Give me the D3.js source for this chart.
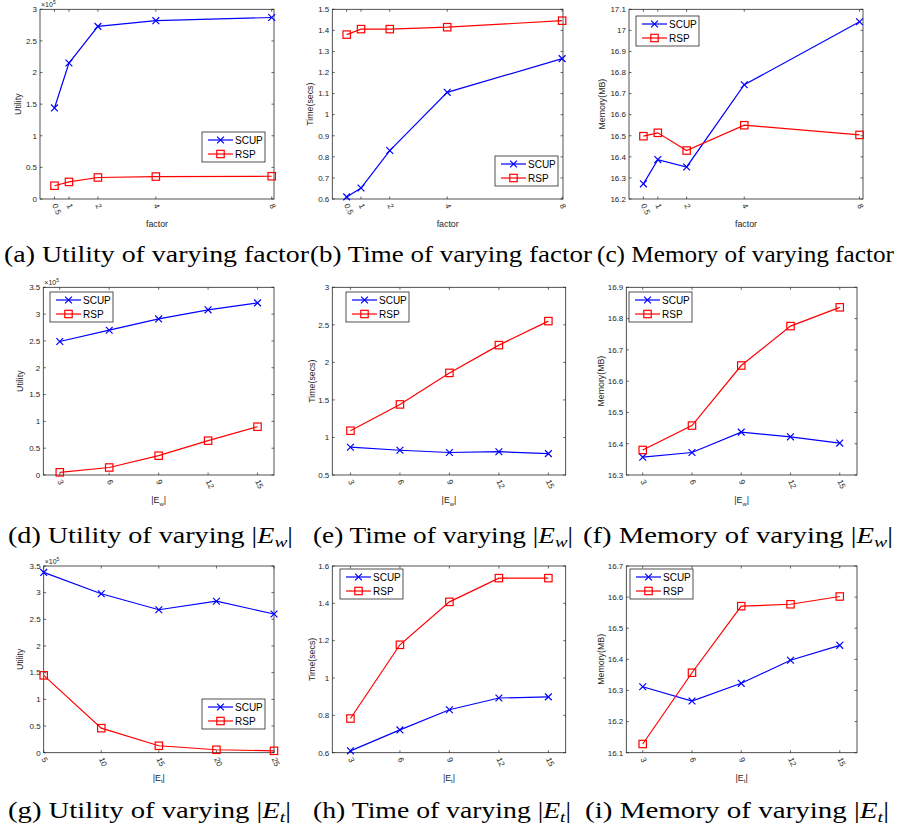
<!DOCTYPE html>
<html>
<head>
<meta charset="utf-8">
<script src="https://cdnjs.cloudflare.com/ajax/libs/d3/7.8.5/d3.min.js"></script>
<style>
  body { margin: 0; background: #fff; }
  svg { display: block; }
</style>
</head>
<body>
<div id="chart"></div>
<script>
// x values
var factorX = [0.5, 1, 2, 4, 8];
var ewX = [3, 6, 9, 12, 15];
var etUtilX = [5, 10, 15, 20, 25];
var etX = [3, 6, 9, 12, 15];

// (a)-(c) varying factor
var utilFactorSCUP = [1.44, 2.15, 2.73, 2.82, 2.87];
var utilFactorRSP = [0.21, 0.27, 0.34, 0.355, 0.36];
var timeFactorSCUP = [0.61, 0.652, 0.83, 1.106, 1.266];
var timeFactorRSP = [1.38, 1.406, 1.406, 1.415, 1.446];
var memFactorSCUP = [16.272, 16.387, 16.352, 16.742, 17.041];
var memFactorRSP = [16.498, 16.514, 16.43, 16.55, 16.504];

// (d)-(f) varying |E_w|
var utilEwSCUP = [2.49, 2.70, 2.91, 3.08, 3.21];
var utilEwRSP = [0.05, 0.14, 0.36, 0.64, 0.90];
var timeEwSCUP = [0.87, 0.83, 0.80, 0.81, 0.785];
var timeEwRSP = [1.09, 1.44, 1.86, 2.23, 2.55];
var memEwSCUP = [16.357, 16.372, 16.437, 16.422, 16.402];
var memEwRSP = [16.38, 16.458, 16.65, 16.776, 16.836];

// (g)-(i) varying |E_t|
var utilEtSCUP = [3.38, 2.98, 2.68, 2.84, 2.60];
var utilEtRSP = [1.45, 0.46, 0.13, 0.055, 0.035];
var timeEtSCUP = [0.61, 0.722, 0.83, 0.893, 0.899];
var timeEtRSP = [0.783, 1.178, 1.408, 1.535, 1.535];
var memEtSCUP = [16.312, 16.266, 16.323, 16.397, 16.445];
var memEtRSP = [16.128, 16.357, 16.571, 16.577, 16.602];

var seriesNames = ["SCUP", "RSP"];
var captions = [
  "(a) Utility of varying factor", "(b) Time of varying factor", "(c) Memory of varying factor",
  "(d) Utility of varying |Ew|", "(e) Time of varying |Ew|", "(f) Memory of varying |Ew|",
  "(g) Utility of varying |Et|", "(h) Time of varying |Et|", "(i) Memory of varying |Et|"
];

var axisCol = "#262626";
var blue = "#0000ff", red = "#ff0000";

var svg = d3.select("#chart").append("svg")
  .attr("width", 898).attr("height", 830)
  .style("font-family", "'Liberation Sans', Arial, sans-serif");

var panels = [
  {box: [40, 9.3, 274, 199], xs: factorX, s: utilFactorSCUP, r: utilFactorRSP, xd: [0, 8.08], yd: [0, 3], step: 0.5,
   ylab: "Utility", ylx: 18, xlab: "factor", leg: [202, 132], exp: true},
  {box: [332.3, 9.3, 563, 199], xs: factorX, s: timeFactorSCUP, r: timeFactorRSP, xd: [0, 8.03], yd: [0.6, 1.5], step: 0.1,
   ylab: "Time(secs)", ylx: 310, xlab: "factor", leg: [495, 156]},
  {box: [629, 9.3, 863, 199], xs: factorX, s: memFactorSCUP, r: memFactorRSP, xd: [0, 8.12], yd: [16.2, 17.1], step: 0.1,
   ylab: "Memory(MB)", ylx: 602, xlab: "factor", leg: [636, 16]},
  {box: [43.3, 287.3, 274, 475], xs: ewX, s: utilEwSCUP, r: utilEwRSP, xd: [2, 16], yd: [0, 3.5], step: 0.5,
   ylab: "Utility", ylx: 20, xlab: "w", leg: [50, 292], exp: true},
  {box: [332.3, 287.3, 565.7, 475], xs: ewX, s: timeEwSCUP, r: timeEwRSP, xd: [1.9, 16.05], yd: [0.5, 3], step: 0.5,
   ylab: "Time(secs)", ylx: 312, xlab: "w", leg: [346, 292]},
  {box: [626.3, 287.3, 857, 475], xs: ewX, s: memEwSCUP, r: memEwRSP, xd: [2, 16.05], yd: [16.3, 16.9], step: 0.1,
   ylab: "Memory(MB)", ylx: 601, xlab: "w", leg: [629, 292]},
  {box: [43.7, 566, 274, 752.7], xs: etUtilX, s: utilEtSCUP, r: utilEtRSP, xd: [5, 25], yd: [0, 3.5], step: 0.5,
   ylab: "Utility", ylx: 20, xlab: "t", leg: [202, 699], exp: true},
  {box: [332.3, 566, 565.7, 752.7], xs: etX, s: timeEtSCUP, r: timeEtRSP, xd: [1.9, 16.05], yd: [0.6, 1.6], step: 0.2,
   ylab: "Time(secs)", ylx: 312, xlab: "t", leg: [340, 569]},
  {box: [626.3, 566, 857, 752.7], xs: etX, s: memEtSCUP, r: memEtRSP, xd: [2, 16.05], yd: [16.1, 16.7], step: 0.1,
   ylab: "Memory(MB)", ylx: 601, xlab: "t", leg: [630, 569]}
];

function drawMarker(g, kind, cx, cy, col) {
  if (kind == 0) {
    var k = 3.4;
    g.append("path")
      .attr("d", "M" + (cx - k) + "," + (cy - k) + "L" + (cx + k) + "," + (cy + k) +
                 "M" + (cx - k) + "," + (cy + k) + "L" + (cx + k) + "," + (cy - k))
      .attr("stroke", col).attr("stroke-width", 1.2).attr("fill", "none");
  } else {
    var h = 3.7;
    g.append("rect")
      .attr("x", cx - h).attr("y", cy - h).attr("width", 2 * h).attr("height", 2 * h)
      .attr("stroke", col).attr("stroke-width", 1.2).attr("fill", "none");
  }
}

function fmt(v) { return String(+v.toFixed(3)); }

panels.forEach(function (p) {
  var L = p.box[0], T = p.box[1], R = p.box[2], B = p.box[3];
  var x = d3.scaleLinear().domain(p.xd).range([L, R]);
  var y = d3.scaleLinear().domain(p.yd).range([B, T]);
  var g = svg.append("g");

  var yt = d3.range(p.yd[0], p.yd[1] + p.step / 2, p.step).map(function (v) { return +v.toFixed(3); });

  // box
  g.append("rect").attr("x", L).attr("y", T).attr("width", R - L).attr("height", B - T)
    .attr("fill", "none").attr("stroke", axisCol).attr("stroke-width", 0.8);

  // ticks inside on all sides
  var tl = 2.5;
  yt.forEach(function (v) {
    g.append("line").attr("x1", L).attr("x2", L + tl).attr("y1", y(v)).attr("y2", y(v))
      .attr("stroke", axisCol).attr("stroke-width", 0.7);
    g.append("line").attr("x1", R).attr("x2", R - tl).attr("y1", y(v)).attr("y2", y(v))
      .attr("stroke", axisCol).attr("stroke-width", 0.7);
    g.append("text").attr("x", L - 3).attr("y", y(v)).attr("dy", "0.35em")
      .attr("text-anchor", "end").attr("font-size", 8).attr("fill", axisCol)
      .text(fmt(v));
  });
  p.xs.forEach(function (v) {
    g.append("line").attr("x1", x(v)).attr("x2", x(v)).attr("y1", B).attr("y2", B - tl)
      .attr("stroke", axisCol).attr("stroke-width", 0.7);
    g.append("line").attr("x1", x(v)).attr("x2", x(v)).attr("y1", T).attr("y2", T + tl)
      .attr("stroke", axisCol).attr("stroke-width", 0.7);
    g.append("text")
      .attr("transform", "translate(" + x(v) + "," + (B + 5) + ") rotate(65)")
      .attr("dy", "0.35em").attr("font-size", 8).attr("fill", axisCol)
      .text(fmt(v));
  });

  // x label
  var xl = g.append("text").attr("x", (L + R) / 2).attr("y", B + 28)
    .attr("text-anchor", "middle").attr("font-size", 8.8).attr("fill", axisCol);
  if (p.xlab == "factor") {
    xl.text("factor");
  } else {
    xl.append("tspan").text("|E");
    xl.append("tspan").attr("font-size", 6).attr("dy", 2.5).text(p.xlab);
    xl.append("tspan").attr("dy", -2.5).text("|");
  }

  // y label
  g.append("text").attr("transform", "translate(" + p.ylx + "," + ((T + B) / 2) + ") rotate(-90)")
    .attr("text-anchor", "middle").attr("dy", "0.35em").attr("font-size", 8.8).attr("fill", axisCol)
    .text(p.ylab);

  // exponent
  if (p.exp) {
    var ex = g.append("text").attr("x", L + 1).attr("y", T - 2).attr("font-size", 7).attr("fill", axisCol);
    ex.append("tspan").text("\u00d710");
    ex.append("tspan").attr("font-size", 5).attr("dy", -3).text("5");
  }

  // series
  var line = d3.line().x(function (d) { return x(d[0]); }).y(function (d) { return y(d[1]); });
  [[p.s, blue, 0], [p.r, red, 1]].forEach(function (sr) {
    var pts = p.xs.map(function (xv, i) { return [xv, sr[0][i]]; });
    g.append("path").attr("d", line(pts)).attr("fill", "none")
      .attr("stroke", sr[1]).attr("stroke-width", 1.2);
    pts.forEach(function (d) { drawMarker(g, sr[2], x(d[0]), y(d[1]), sr[1]); });
  });

  // legend
  var lx = p.leg[0], ly = p.leg[1];
  g.append("rect").attr("x", lx).attr("y", ly).attr("width", 63).attr("height", 30)
    .attr("fill", "#fff").attr("stroke", axisCol).attr("stroke-width", 0.8);
  [[blue, 0], [red, 1]].forEach(function (it, i) {
    var cy = ly + 8 + i * 14;
    g.append("line").attr("x1", lx + 6).attr("x2", lx + 31).attr("y1", cy).attr("y2", cy)
      .attr("stroke", it[0]).attr("stroke-width", 1.2);
    drawMarker(g, it[1], lx + 18.5, cy, it[0]);
    g.append("text").attr("x", lx + 33).attr("y", cy).attr("dy", "0.36em")
      .attr("font-size", 10).attr("fill", "#000").text(seriesNames[i]);
  });
});

// captions (serif, LaTeX-like)
var capPos = [
  [4, 309, 262], [310, 592, 262], [597, 894, 262],
  [8, 293, 543], [313, 573, 543], [583, 893, 543],
  [8, 291, 818], [313, 571, 818], [585, 889, 818]
];
captions.forEach(function (c, i) {
  var cp = capPos[i];
  var t = svg.append("text").attr("x", cp[0]).attr("y", cp[2])
    .attr("font-family", "'Liberation Serif', 'DejaVu Serif', serif")
    .attr("font-size", 22.5).attr("fill", "#000")
    .attr("textLength", cp[1] - cp[0]).attr("lengthAdjust", "spacingAndGlyphs");
  var m = c.match(/^(.*)\|E([wt])\|$/);
  if (m) {
    t.append("tspan").text(m[1] + "|");
    t.append("tspan").attr("font-style", "italic").text("E");
    t.append("tspan").attr("font-style", "italic").attr("font-size", 15.5).attr("dy", 4).text(m[2]);
    t.append("tspan").attr("dy", -4).text("|");
  } else {
    t.text(c);
  }
});
</script>
</body>
</html>
